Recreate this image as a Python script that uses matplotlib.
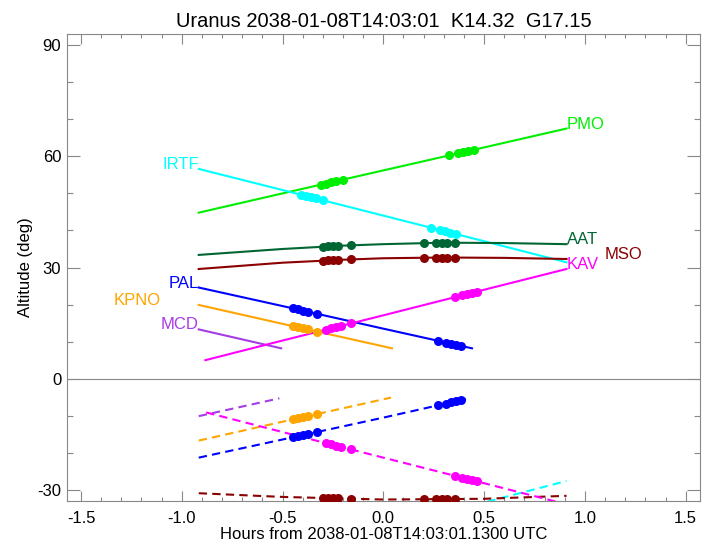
import numpy as np
import matplotlib
matplotlib.use("Agg")
import matplotlib.pyplot as plt
from matplotlib.ticker import MultipleLocator

plt.rcParams['font.family'] = ['Liberation Sans', 'DejaVu Sans']

title = "Uranus 2038-01-08T14:03:01  K14.32  G17.15"
xlabel = "Hours from 2038-01-08T14:03:01.1300 UTC"
ylabel = "Altitude (deg)"

stations = ['PMO', 'IRTF', 'AAT', 'MSO', 'PAL', 'KPNO', 'MCD', 'KAV']
colors = {'PMO': '#00ee00', 'IRTF': '#00ffff', 'AAT': '#006633', 'MSO': '#8b0000',
          'PAL': '#0000ff', 'KPNO': '#ffa500', 'MCD': '#a43de6', 'KAV': '#ff00ff'}

# target altitude curves (hours, deg)
pmo_t = [-0.916, -0.5, 0.0, 0.5, 0.909]
pmo_alt = [44.8, 50.0, 56.2, 62.4, 67.5]
irtf_t = [-0.916, -0.5, 0.0, 0.5, 0.909]
irtf_alt = [56.6, 50.9, 44.0, 37.1, 31.4]
aat_t = [-0.916, -0.5, -0.2, 0.0, 0.3, 0.6, 0.909]
aat_alt = [33.4, 35.0, 35.9, 36.3, 36.7, 36.6, 36.3]
mso_t = [-0.916, -0.5, -0.2, 0.0, 0.3, 0.6, 0.909]
mso_alt = [29.6, 31.3, 32.1, 32.5, 32.7, 32.6, 32.3]
pal_t = [-0.916, -0.5, 0.0, 0.44]
pal_alt = [24.6, 19.6, 13.5, 8.2]
kpno_t = [-0.916, -0.5, 0.043]
kpno_alt = [19.9, 14.8, 8.2]
mcd_t = [-0.916, -0.507]
mcd_alt = [13.3, 8.2]
kav_t = [-0.883, -0.5, 0.0, 0.5, 0.909]
kav_alt = [5.0, 10.3, 17.1, 24.0, 29.6]

# sun altitude curves (hours, deg)
mcd_sun_t = [-0.916, -0.516]
mcd_sun = [-10.1, -5.3]
kav_sun_t = [-0.879, -0.5, 0.0, 0.5, 0.909]
kav_sun = [-9.1, -14.4, -21.3, -28.2, -33.9]
kpno_sun_t = [-0.916, -0.5, 0.038]
kpno_sun = [-16.7, -11.6, -5.1]
pal_sun_t = [-0.916, -0.5, 0.0, 0.41]
pal_sun = [-21.3, -16.4, -10.5, -5.5]
mso_sun_t = [-0.916, -0.5, 0.0, 0.5, 0.909]
mso_sun = [-30.9, -31.9, -32.6, -32.4, -31.6]
irtf_sun_t = [0.45, 0.909]
irtf_sun = [-34.1, -27.6]

# observation times (hours) shown as dots
pmo_obs = [-0.31, -0.285, -0.26, -0.235, -0.2, 0.326, 0.37, 0.395, 0.42, 0.45]
irtf_obs = [-0.41, -0.385, -0.36, -0.335, -0.3, 0.236, 0.28, 0.305, 0.33, 0.36]
aat_obs = [-0.3, -0.275, -0.25, -0.225, -0.16, 0.2, 0.26, 0.29, 0.315, 0.355]
mso_obs = [-0.3, -0.275, -0.25, -0.225, -0.16, 0.2, 0.26, 0.29, 0.315, 0.355]
pal_obs = [-0.45, -0.425, -0.4, -0.375, -0.33, 0.27, 0.31, 0.335, 0.36, 0.385]
kpno_obs = [-0.45, -0.425, -0.4, -0.375, -0.33]
mcd_obs = []
kav_obs = [-0.285, -0.26, -0.235, -0.21, -0.16, 0.355, 0.39, 0.415, 0.44, 0.465]

target = {'PMO': (pmo_t, pmo_alt), 'IRTF': (irtf_t, irtf_alt), 'AAT': (aat_t, aat_alt),
          'MSO': (mso_t, mso_alt), 'PAL': (pal_t, pal_alt), 'KPNO': (kpno_t, kpno_alt),
          'MCD': (mcd_t, mcd_alt), 'KAV': (kav_t, kav_alt)}
sun = {'MCD': (mcd_sun_t, mcd_sun), 'KAV': (kav_sun_t, kav_sun), 'KPNO': (kpno_sun_t, kpno_sun),
       'PAL': (pal_sun_t, pal_sun), 'MSO': (mso_sun_t, mso_sun), 'IRTF': (irtf_sun_t, irtf_sun)}
obs = {'PMO': pmo_obs, 'IRTF': irtf_obs, 'AAT': aat_obs, 'MSO': mso_obs, 'PAL': pal_obs,
       'KPNO': kpno_obs, 'MCD': mcd_obs, 'KAV': kav_obs}

# label placement: (anchor 'start'/'end' of line, x offset hours, y offset deg)
label_pos = {'PMO': ('end', 0.0, 0.0), 'IRTF': ('start', 0.0, 0.0), 'AAT': ('end', 0.0, 0.0),
             'MSO': ('end', 0.19, 0.0), 'PAL': ('start', 0.0, 0.0), 'KPNO': ('start', -0.19, 0.0),
             'MCD': ('start', 0.0, 0.0), 'KAV': ('end', 0.0, 0.0)}

fig = plt.figure(figsize=(7.12, 5.46), dpi=100)
ax = fig.add_axes([0.0937, 0.0824, 0.8894, 0.8553])

ax.axhline(0, color='#888888', lw=0.8, zorder=1)

for s in stations:
    c = colors[s]
    t, a = target[s]
    ax.plot(t, a, color=c, lw=1.5, zorder=3)
    o = np.array(obs[s])
    if len(o):
        ax.plot(o, np.interp(o, t, a), 'o', color=c, ms=6.5, mec='none', zorder=4)
    if s in sun:
        st, sa = sun[s]
        ax.plot(st, sa, color=c, lw=1.5, dashes=(4, 2.5), zorder=3)
        if len(o):
            m = (o >= st[0]) & (o <= st[-1])
            ax.plot(o[m], np.interp(o[m], st, sa), 'o', color=c, ms=6.5, mec='none', zorder=4)
    where, dx, dy = label_pos[s]
    if where == 'end':
        ax.text(t[-1] + dx, a[-1] + dy, s, color=c, fontsize=12, ha='left', va='baseline')
    else:
        ax.text(t[0] + dx, a[0] + dy, s, color=c, fontsize=12, ha='right', va='baseline')

ax.set_xlim(-1.571, 1.571)
ax.set_ylim(-33, 93)
ax.xaxis.set_major_locator(MultipleLocator(0.5))
ax.xaxis.set_minor_locator(MultipleLocator(0.1))
ax.yaxis.set_major_locator(MultipleLocator(30))
ax.yaxis.set_minor_locator(MultipleLocator(10))
ax.xaxis.set_major_formatter(matplotlib.ticker.FormatStrFormatter('%.1f'))
ax.yaxis.set_major_formatter(matplotlib.ticker.FormatStrFormatter('%d'))
ax.tick_params(which='both', direction='in', top=True, right=True, color='#888888',
               labelsize=12, width=0.8)
ax.tick_params(axis='x', which='major', length=7, pad=7)
ax.tick_params(axis='x', which='minor', length=3)
ax.tick_params(axis='y', which='major', length=9.5, pad=4)
ax.tick_params(axis='y', which='minor', length=4.5)
for sp in ax.spines.values():
    sp.set_color('#888888')
    sp.set_linewidth(0.8)

ax.set_title(title, fontsize=14.5, pad=5)
ax.set_xlabel(xlabel, fontsize=12, labelpad=1)
ax.set_ylabel(ylabel, fontsize=12, labelpad=3)

fig.savefig('out.png', dpi=100)
